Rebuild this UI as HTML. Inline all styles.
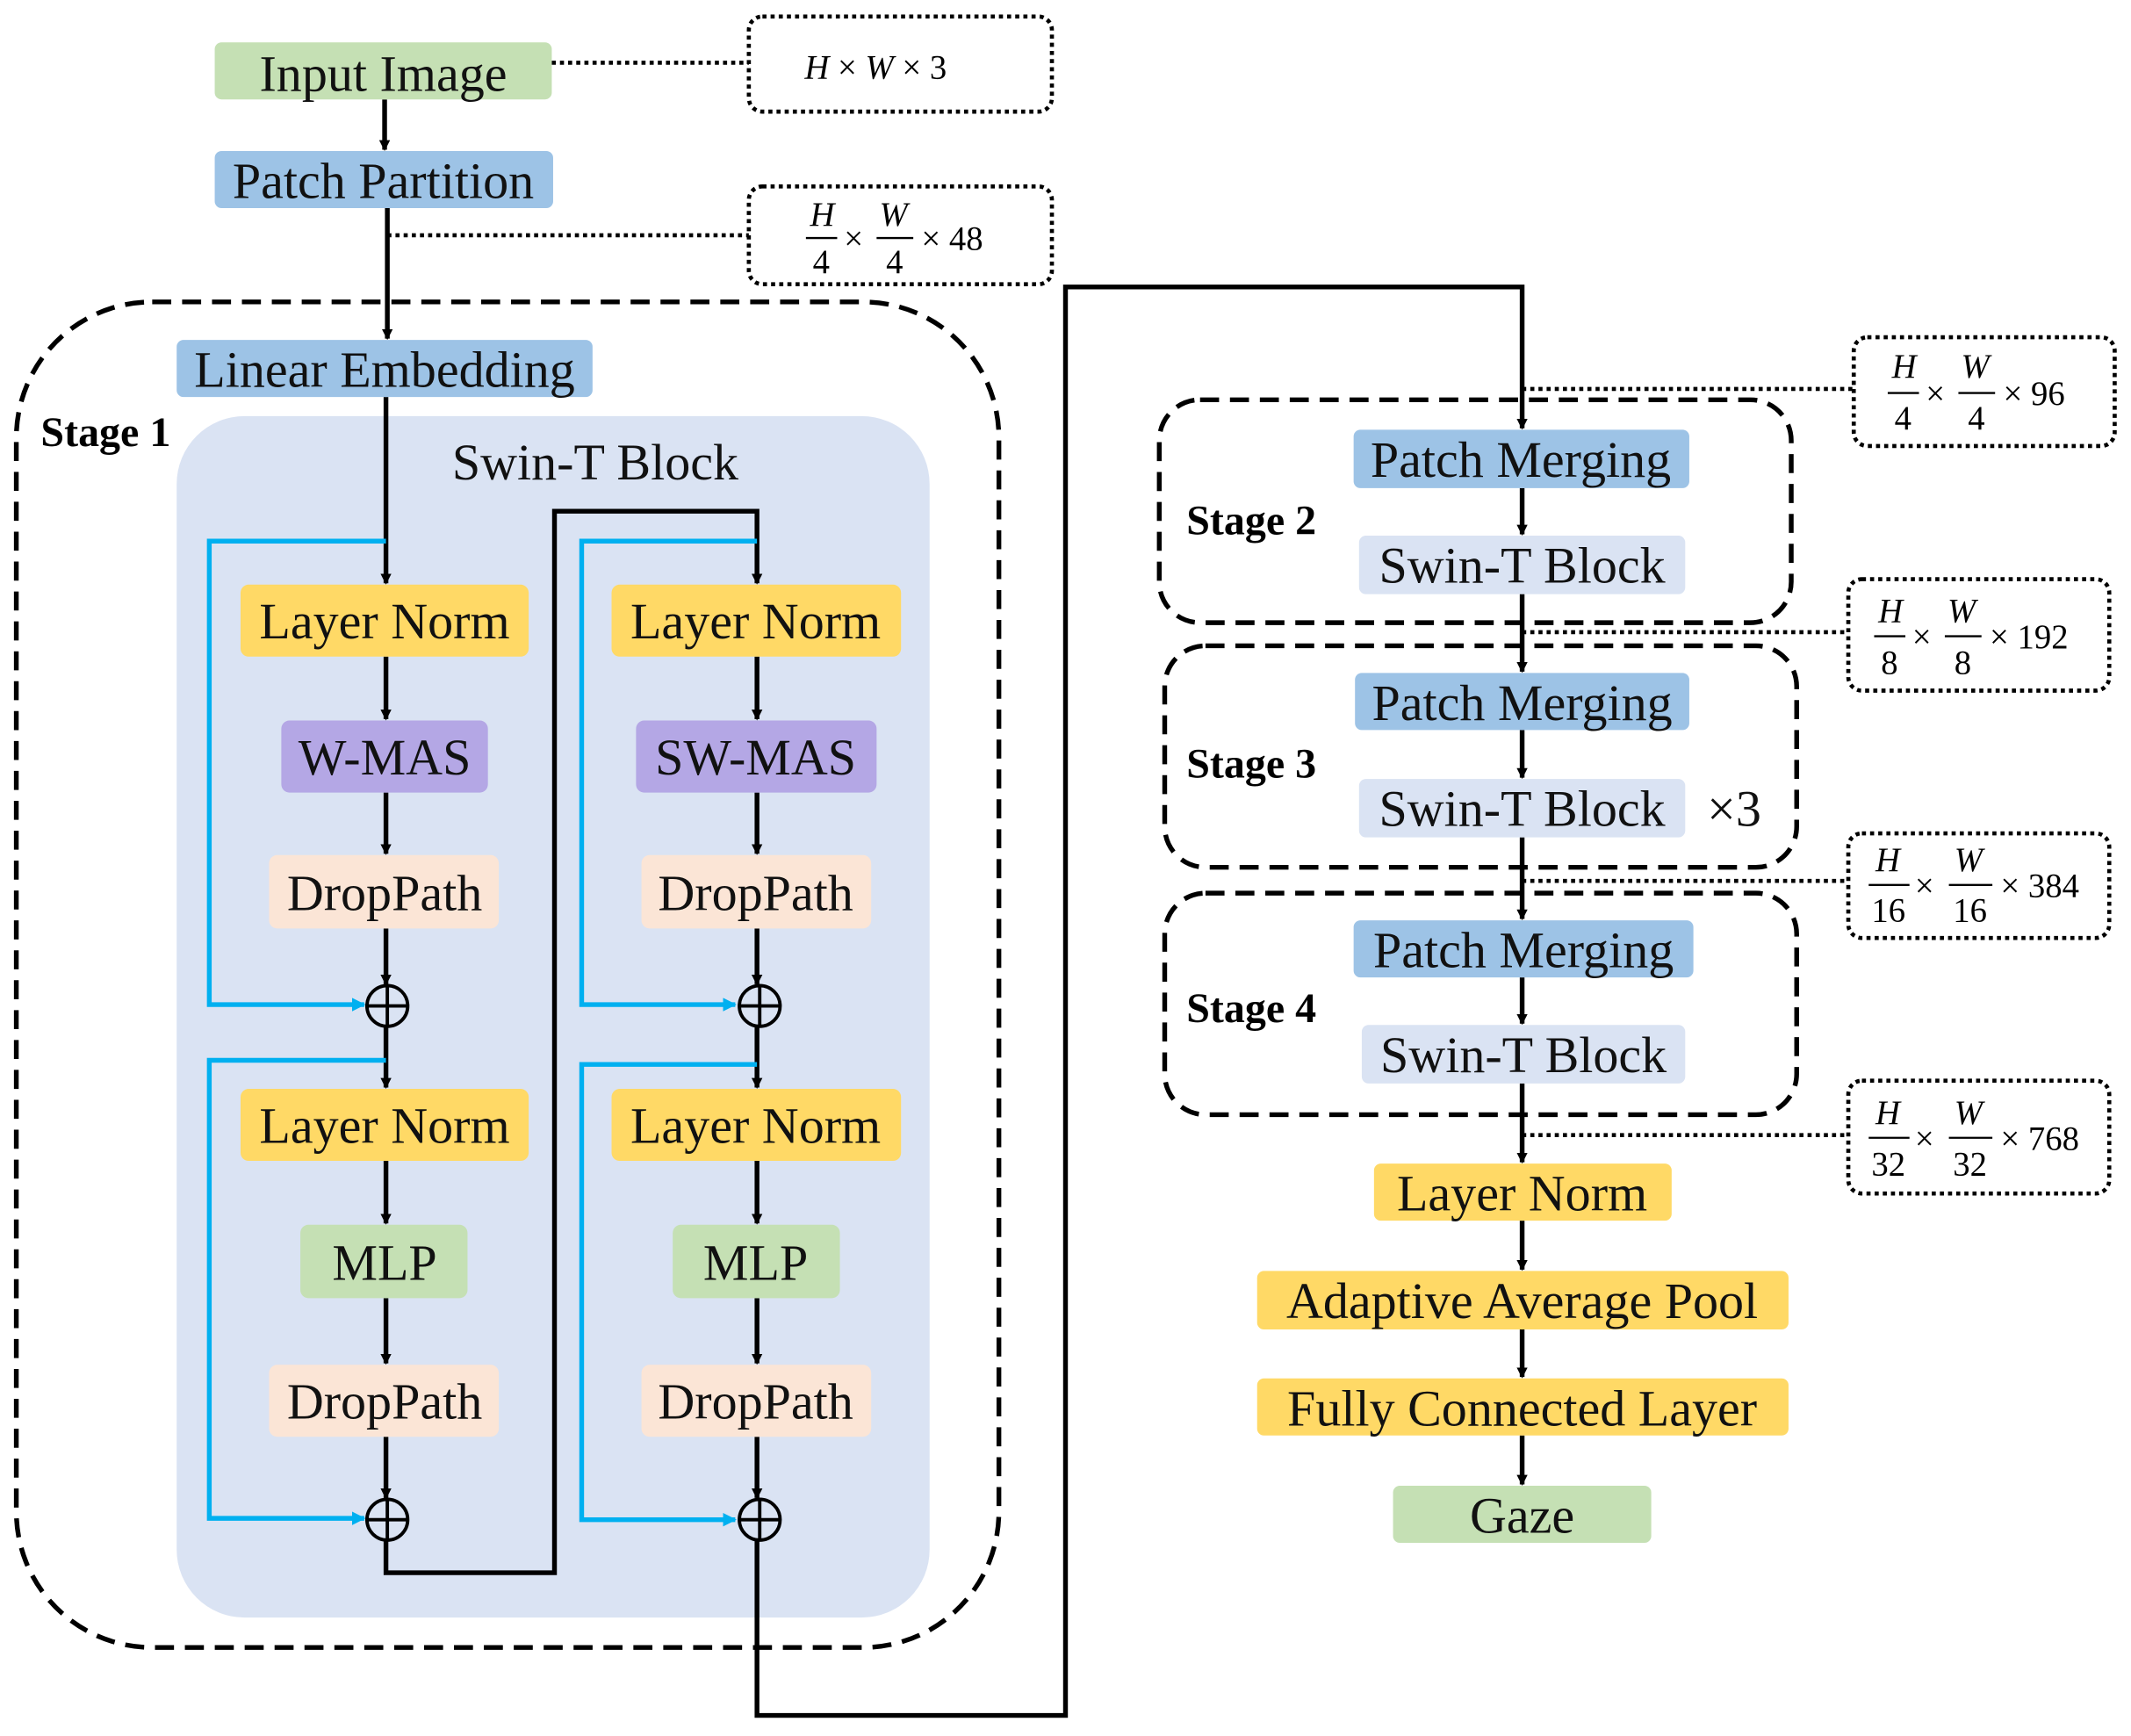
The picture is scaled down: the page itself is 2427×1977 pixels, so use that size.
<!DOCTYPE html>
<html><head><meta charset="utf-8"><style>
html,body{margin:0;padding:0;background:#fff}
svg{display:block}
text{font-family:"Liberation Serif",serif}
.b{font-size:37.5px;text-anchor:middle;dominant-baseline:central;fill:#111}
.st{font-size:31px;font-weight:bold;dominant-baseline:central}
.d{font-size:25px;dominant-baseline:central}
.i{font-style:italic}
.k{stroke:#000;stroke-width:3.5;fill:none}
.c{stroke:#00b0f0;stroke-width:3.5;fill:none}
.dot{stroke:#000;stroke-width:3;stroke-dasharray:3 3;fill:none}
.dash{stroke:#000;stroke-width:3.5;stroke-dasharray:14 8;fill:none}
</style></head><body>
<svg width="2427" height="1977" viewBox="0 0 1568 1277" xmlns="http://www.w3.org/2000/svg">
<defs>
<marker id="a" markerWidth="8" markerHeight="8" refX="7" refY="4" orient="auto" markerUnits="userSpaceOnUse"><path d="M0,0 L8,4 L0,8 z" fill="#000"/></marker>
<marker id="ab" markerWidth="10" markerHeight="10" refX="9" refY="5" orient="auto" markerUnits="userSpaceOnUse"><path d="M0,0 L10,5 L0,10 z" fill="#00b0f0"/></marker>
</defs>
<rect x="12" y="222" width="723" height="990" rx="100" class="dash"/>
<rect x="130" y="306" width="554" height="884" rx="50" fill="#dae3f3"/>
<text x="30" y="318" class="st">Stage 1</text>
<text x="438" y="340" class="b">Swin-T Block</text>

<line x1="406" y1="46" x2="551" y2="46" class="dot"/>
<line x1="285" y1="173" x2="551" y2="173" class="dot"/>
<line x1="1120" y1="286" x2="1364" y2="286" class="dot"/>
<line x1="1120" y1="465" x2="1360" y2="465" class="dot"/>
<line x1="1120" y1="648" x2="1360" y2="648" class="dot"/>
<line x1="1120" y1="835" x2="1360" y2="835" class="dot"/>

<rect x="551" y="12" width="223" height="70" rx="10" class="dot"/>
<text x="592" y="50" class="d"><tspan class="i">H</tspan> × <tspan class="i">W</tspan> × 3</text>
<rect x="551" y="137" width="223" height="72" rx="10" class="dot"/>
<text x="596" y="158" class="d i">H</text><line x1="593" y1="175" x2="616" y2="175" stroke="#000" stroke-width="1.5"/><text x="598" y="193" class="d">4</text>
<text x="621" y="176" class="d">×</text>
<text x="647" y="158" class="d i">W</text><line x1="645" y1="175" x2="672" y2="175" stroke="#000" stroke-width="1.5"/><text x="652" y="193" class="d">4</text>
<text x="678" y="176" class="d">× 48</text>

<rect x="1364" y="248" width="192" height="80" rx="10" class="dot"/>
<text x="1392" y="270" class="d i">H</text><line x1="1389" y1="289" x2="1412" y2="289" stroke="#000" stroke-width="1.5"/><text x="1394" y="308" class="d">4</text>
<text x="1417" y="290" class="d">×</text>
<text x="1443" y="270" class="d i">W</text><line x1="1441" y1="289" x2="1468" y2="289" stroke="#000" stroke-width="1.5"/><text x="1448" y="308" class="d">4</text>
<text x="1474" y="290" class="d">× 96</text>
<rect x="1360" y="426" width="192" height="82" rx="10" class="dot"/>
<text x="1382" y="450" class="d i">H</text><line x1="1379" y1="468" x2="1402" y2="468" stroke="#000" stroke-width="1.5"/><text x="1384" y="488" class="d">8</text>
<text x="1407" y="469" class="d">×</text>
<text x="1433" y="450" class="d i">W</text><line x1="1431" y1="468" x2="1458" y2="468" stroke="#000" stroke-width="1.5"/><text x="1438" y="488" class="d">8</text>
<text x="1464" y="469" class="d">× 192</text>
<rect x="1360" y="613" width="192" height="77" rx="10" class="dot"/>
<text x="1380" y="633" class="d i">H</text><line x1="1375" y1="651" x2="1405" y2="651" stroke="#000" stroke-width="1.5"/><text x="1377" y="670" class="d">16</text>
<text x="1409" y="652" class="d">×</text>
<text x="1438" y="633" class="d i">W</text><line x1="1434" y1="651" x2="1466" y2="651" stroke="#000" stroke-width="1.5"/><text x="1437" y="670" class="d">16</text>
<text x="1472" y="652" class="d">× 384</text>
<rect x="1360" y="795" width="192" height="83" rx="10" class="dot"/>
<text x="1380" y="819" class="d i">H</text><line x1="1375" y1="837" x2="1405" y2="837" stroke="#000" stroke-width="1.5"/><text x="1377" y="857" class="d">32</text>
<text x="1409" y="838" class="d">×</text>
<text x="1438" y="819" class="d i">W</text><line x1="1434" y1="837" x2="1466" y2="837" stroke="#000" stroke-width="1.5"/><text x="1437" y="857" class="d">32</text>
<text x="1472" y="838" class="d">× 768</text>

<line x1="283" y1="73" x2="283" y2="110" class="k" marker-end="url(#a)"/>
<line x1="285" y1="153" x2="285" y2="249" class="k" marker-end="url(#a)"/>
<line x1="284" y1="292" x2="284" y2="429" class="k" marker-end="url(#a)"/>
<line x1="284" y1="483" x2="284" y2="529" class="k" marker-end="url(#a)"/>
<line x1="284" y1="583" x2="284" y2="628" class="k" marker-end="url(#a)"/>
<line x1="284" y1="683" x2="284" y2="724" class="k" marker-end="url(#a)"/>
<line x1="284" y1="755" x2="284" y2="800" class="k" marker-end="url(#a)"/>
<line x1="284" y1="854" x2="284" y2="900" class="k" marker-end="url(#a)"/>
<line x1="284" y1="955" x2="284" y2="1003" class="k" marker-end="url(#a)"/>
<line x1="284" y1="1057" x2="284" y2="1102" class="k" marker-end="url(#a)"/>
<polyline points="284,1133 284,1157 408,1157 408,376 557,376 557,429" class="k" marker-end="url(#a)"/>
<line x1="557" y1="483" x2="557" y2="529" class="k" marker-end="url(#a)"/>
<line x1="557" y1="583" x2="557" y2="628" class="k" marker-end="url(#a)"/>
<line x1="557" y1="683" x2="557" y2="724" class="k" marker-end="url(#a)"/>
<line x1="557" y1="755" x2="557" y2="800" class="k" marker-end="url(#a)"/>
<line x1="557" y1="854" x2="557" y2="900" class="k" marker-end="url(#a)"/>
<line x1="557" y1="955" x2="557" y2="1003" class="k" marker-end="url(#a)"/>
<line x1="557" y1="1057" x2="557" y2="1102" class="k" marker-end="url(#a)"/>
<polyline points="557,1133 557,1262 784,1262 784,211 1120,211 1120,315" class="k" marker-end="url(#a)"/>
<line x1="1120" y1="359" x2="1120" y2="393" class="k" marker-end="url(#a)"/>
<line x1="1120" y1="437" x2="1120" y2="494" class="k" marker-end="url(#a)"/>
<line x1="1120" y1="537" x2="1120" y2="572" class="k" marker-end="url(#a)"/>
<line x1="1120" y1="616" x2="1120" y2="676" class="k" marker-end="url(#a)"/>
<line x1="1120" y1="719" x2="1120" y2="753" class="k" marker-end="url(#a)"/>
<line x1="1120" y1="797" x2="1120" y2="855" class="k" marker-end="url(#a)"/>
<line x1="1120" y1="898" x2="1120" y2="934" class="k" marker-end="url(#a)"/>
<line x1="1120" y1="978" x2="1120" y2="1013" class="k" marker-end="url(#a)"/>
<line x1="1120" y1="1056" x2="1120" y2="1092" class="k" marker-end="url(#a)"/>

<polyline points="284,398 154,398 154,739 268,739" class="c" marker-end="url(#ab)"/>
<polyline points="284,780 154,780 154,1117 268,1117" class="c" marker-end="url(#ab)"/>
<polyline points="557,398 428,398 428,739 541,739" class="c" marker-end="url(#ab)"/>
<polyline points="557,783 428,783 428,1118 541,1118" class="c" marker-end="url(#ab)"/>

<g stroke="#000" stroke-width="2.5" fill="none">
<circle cx="285" cy="740" r="15"/><line x1="270" y1="740" x2="300" y2="740"/><line x1="285" y1="725" x2="285" y2="755"/>
<circle cx="285" cy="1118" r="15"/><line x1="270" y1="1118" x2="300" y2="1118"/><line x1="285" y1="1103" x2="285" y2="1133"/>
<circle cx="559" cy="740" r="15"/><line x1="544" y1="740" x2="574" y2="740"/><line x1="559" y1="725" x2="559" y2="755"/>
<circle cx="559" cy="1118" r="15"/><line x1="544" y1="1118" x2="574" y2="1118"/><line x1="559" y1="1103" x2="559" y2="1133"/>
</g>

<rect x="158" y="31" width="248" height="42" rx="5" fill="#c5e0b4"/><text x="282" y="54" class="b">Input Image</text>
<rect x="158" y="111" width="249" height="42" rx="5" fill="#9dc3e6"/><text x="282" y="133" class="b">Patch Partition</text>
<rect x="130" y="250" width="306" height="42" rx="5" fill="#9dc3e6"/><text x="283" y="272" class="b">Linear Embedding</text>

<rect x="177" y="430" width="212" height="53" rx="6" fill="#ffd966"/><text x="283" y="457" class="b">Layer Norm</text>
<rect x="207" y="530" width="152" height="53" rx="6" fill="#b4a7e5"/><text x="283" y="557" class="b">W-MAS</text>
<rect x="198" y="629" width="169" height="54" rx="6" fill="#fbe5d6"/><text x="283" y="657" class="b">DropPath</text>
<rect x="177" y="801" width="212" height="53" rx="6" fill="#ffd966"/><text x="283" y="828" class="b">Layer Norm</text>
<rect x="221" y="901" width="123" height="54" rx="6" fill="#c5e0b4"/><text x="283" y="929" class="b">MLP</text>
<rect x="198" y="1004" width="169" height="53" rx="6" fill="#fbe5d6"/><text x="283" y="1031" class="b">DropPath</text>

<rect x="450" y="430" width="213" height="53" rx="6" fill="#ffd966"/><text x="556" y="457" class="b">Layer Norm</text>
<rect x="468" y="530" width="177" height="53" rx="6" fill="#b4a7e5"/><text x="556" y="557" class="b">SW-MAS</text>
<rect x="472" y="629" width="169" height="54" rx="6" fill="#fbe5d6"/><text x="556" y="657" class="b">DropPath</text>
<rect x="450" y="801" width="213" height="53" rx="6" fill="#ffd966"/><text x="556" y="828" class="b">Layer Norm</text>
<rect x="495" y="901" width="123" height="54" rx="6" fill="#c5e0b4"/><text x="556" y="929" class="b">MLP</text>
<rect x="472" y="1004" width="169" height="53" rx="6" fill="#fbe5d6"/><text x="556" y="1031" class="b">DropPath</text>

<rect x="853" y="294" width="465" height="164" rx="30" class="dash"/>
<text x="873" y="383" class="st">Stage 2</text>
<rect x="996" y="316" width="247" height="43" rx="5" fill="#9dc3e6"/><text x="1119" y="338" class="b">Patch Merging</text>
<rect x="1000" y="394" width="240" height="43" rx="5" fill="#dae3f3"/><text x="1120" y="416" class="b">Swin-T Block</text>

<rect x="857" y="475" width="465" height="163" rx="30" class="dash"/>
<text x="873" y="562" class="st">Stage 3</text>
<rect x="997" y="495" width="246" height="42" rx="5" fill="#9dc3e6"/><text x="1120" y="517" class="b">Patch Merging</text>
<rect x="1000" y="573" width="240" height="43" rx="5" fill="#dae3f3"/><text x="1120" y="595" class="b">Swin-T Block</text>
<text x="1276" y="595" class="b">×3</text>

<rect x="857" y="657" width="465" height="163" rx="30" class="dash"/>
<text x="873" y="742" class="st">Stage 4</text>
<rect x="996" y="677" width="250" height="42" rx="5" fill="#9dc3e6"/><text x="1121" y="699" class="b">Patch Merging</text>
<rect x="1002" y="754" width="238" height="43" rx="5" fill="#dae3f3"/><text x="1121" y="776" class="b">Swin-T Block</text>

<rect x="1011" y="856" width="219" height="42" rx="5" fill="#ffd966"/><text x="1120" y="878" class="b">Layer Norm</text>
<rect x="925" y="935" width="391" height="43" rx="5" fill="#ffd966"/><text x="1120" y="957" class="b">Adaptive Average Pool</text>
<rect x="925" y="1014" width="391" height="42" rx="5" fill="#ffd966"/><text x="1120" y="1036" class="b">Fully Connected Layer</text>
<rect x="1025" y="1093" width="190" height="42" rx="5" fill="#c5e0b4"/><text x="1120" y="1115" class="b">Gaze</text>
</svg>
</body></html>
